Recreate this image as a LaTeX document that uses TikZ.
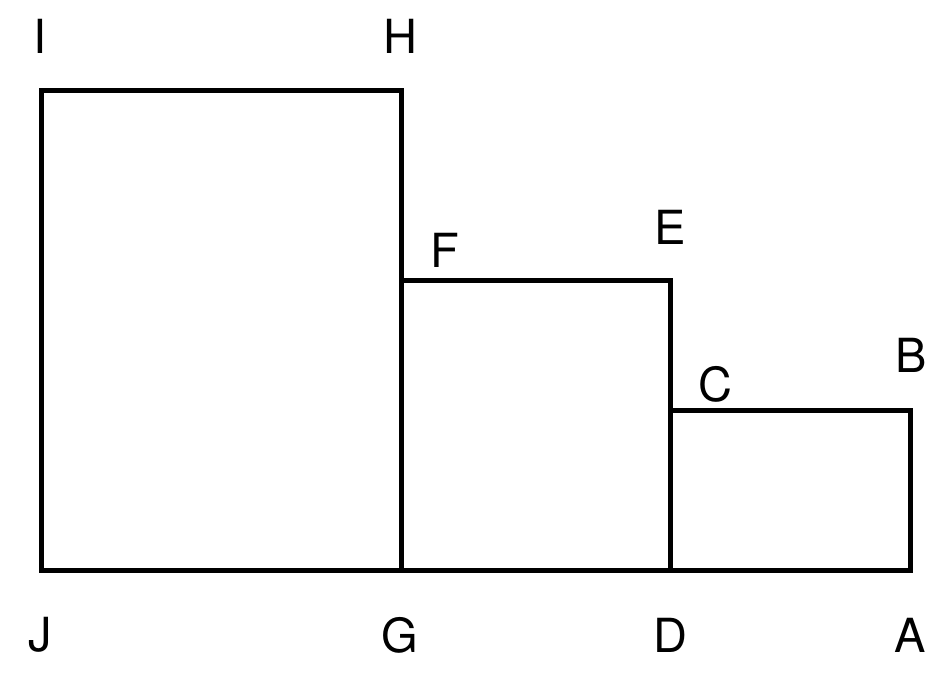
\documentclass[tikz,border=0pt]{standalone}
\usepackage{fontspec}
\setmainfont{TeX Gyre Heros}
\begin{document}
\begin{tikzpicture}[x=1pt,y=-1pt,
  lbl/.style={font=\fontsize{47}{47}\selectfont, inner sep=0pt, anchor=center},
  edge/.style={line width=5pt, line join=miter}]
\useasboundingbox (0,0) rectangle (950,675);
\coordinate (J) at (41,570);
\coordinate (G) at (401,570);
\coordinate (D) at (670,570);
\coordinate (A) at (910,570);
\coordinate (I) at (41,90);
\coordinate (H) at (401,90);
\coordinate (F) at (401,280);
\coordinate (E) at (670,280);
\coordinate (C) at (670,410);
\coordinate (B) at (910,410);
\draw[edge] (J) -- (A) -- (B) -- (C) -- (E) -- (F) -- (H) -- (I) -- cycle;
\draw[edge] (G) -- (F);
\draw[edge] (D) -- (C);
\node[lbl] (lI) at (40,36) {I};
\node[lbl] (lH) at (400,36) {H};
\node[lbl] (lF) at (445,250) {F};
\node[lbl] (lE) at (670,227) {E};
\node[lbl] (lC) at (715,384) {C};
\node[lbl] (lB) at (911,355) {B};
\node[lbl] (lJ) at (40,635) {J};
\node[lbl] (lG) at (400,635) {G};
\node[lbl] (lD) at (670,635) {D};
\node[lbl] (lA) at (910,635) {A};
\end{tikzpicture}
\end{document}
